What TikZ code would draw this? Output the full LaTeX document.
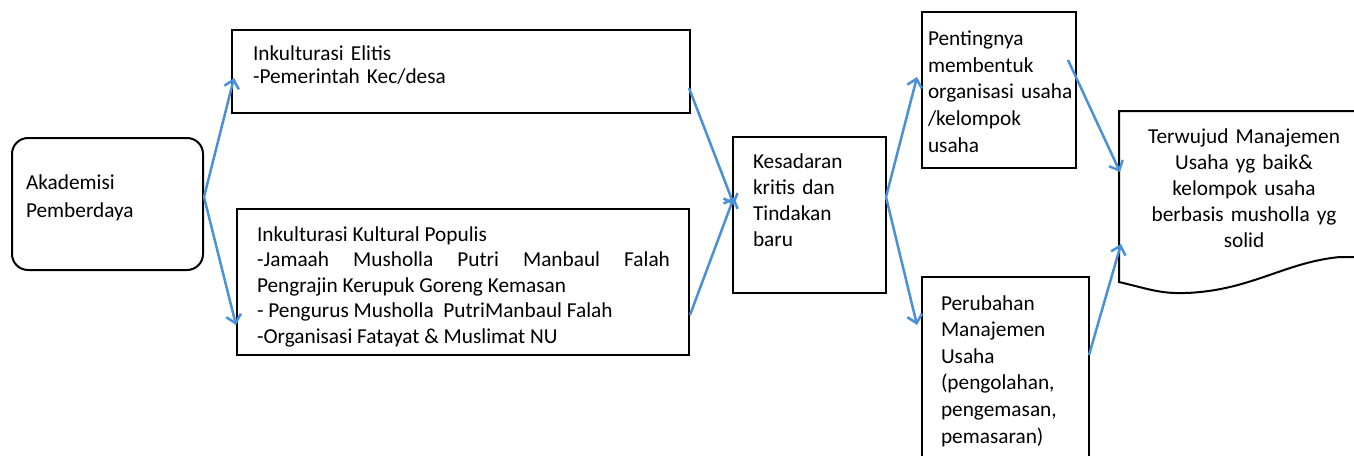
\documentclass[tikz,border=0pt]{standalone}
\usepackage{fontspec}
\setmainfont{Carlito}
\usetikzlibrary{arrows.meta,calc}
\definecolor{arrowblue}{RGB}{74,144,217}
\tikzset{
  box/.style={draw=black,line width=2pt,inner sep=0pt,outer sep=0pt,fill=none},
  txt/.style={inner sep=0pt,outer sep=0pt,anchor=north west,align=left,font=\fontsize{21.3pt}{26pt}\selectfont},
  conn/.style={draw=arrowblue,line width=2.5pt,-{Straight Barb[length=8pt,width=15pt]}}
}
\begin{document}
\begin{tikzpicture}[x=1pt,y=-1pt]
\useasboundingbox (0,0) rectangle (1354,455);
% boxes
\node[box,rounded corners=16pt,minimum width=191pt,minimum height=132pt] (akad) at (107.5,204) {};
\node[box,minimum width=458pt,minimum height=83pt] (elit) at (461,71.5) {};
\node[box,minimum width=452pt,minimum height=146pt] (pop) at (463,282) {};
\node[box,minimum width=153pt,minimum height=156pt] (kes) at (809.5,215) {};
\node[box,minimum width=154pt,minimum height=156pt] (pent) at (999,90) {};
\node[box,minimum width=167pt,minimum height=193pt] (perub) at (1005.5,373.5) {};
% document shape
\draw[line width=2pt] (1354,111) -- (1119,111) -- (1119,282)
  .. controls (1145,288) and (1160,294) .. (1185,293)
  .. controls (1250,291) and (1285,262) .. (1340,257) -- (1354,257);
\coordinate (docin1) at (1120,172);
\coordinate (docin2) at (1121,244);
% texts
\node[txt,text width=170pt,font=\fontsize{21.3pt}{28pt}\selectfont] (akadT) at (26,169.4) {\strut Akademisi\\Pemberdaya};
\node[txt,text width=420pt,font=\fontsize{21.3pt}{23pt}\selectfont] (elitT) at (253,44.4) {\strut Inkulturasi Elitis\\-Pemerintah Kec/desa};
\node[txt,text width=413pt,align=justify,font=\fontsize{21.3pt}{25.5pt}\selectfont] (popT) at (257,223.15) {\strut Inkulturasi Kultural Populis\\-Jamaah Musholla Putri Manbaul Falah\linebreak Pengrajin Kerupuk Goreng Kemasan\\- Pengurus Musholla~ PutriManbaul Falah\\-Organisasi Fatayat \& Muslimat NU};
\node[txt,text width=130pt] (kesT) at (753,149.8) {\strut Kesadaran\\kritis dan\\Tindakan\\baru};
\node[txt,text width=150pt,font=\fontsize{21.3pt}{27pt}\selectfont] (pentT) at (928,26.1) {\strut Pentingnya\\membentuk\\organisasi usaha\\/kelompok\\usaha};
\node[txt,text width=145pt,font=\fontsize{21.3pt}{26.6pt}\selectfont] (perubT) at (941,291.4) {\strut Perubahan\\Manajemen\\Usaha\\(pengolahan,\\pengemasan,\\pemasaran)};
\node[txt,anchor=north,align=center,text width=225pt] (docT) at (1244,124.8) {\strut Terwujud Manajemen\\Usaha yg baik\&\\kelompok usaha\\berbasis musholla yg\\solid};
% connectors
\draw[conn] ($(akad.east)+(1,-7)$) -- ($(elit.west)+(2,6.5)$);
\draw[conn] ($(akad.east)+(1,-7)$) -- ($(pop.west)+(-1,43)$);
\draw[conn] ($(elit.east)+(-1,16.5)$) -- ($(kes.west)+(1,-10)$);
\draw[conn] ($(pop.east)+(1,33)$) -- ($(kes.west)+(1,-18)$);
\draw[conn] ($(kes.east)+(0,-18)$) -- ($(pent.west)+(-5,-13)$);
\draw[conn] ($(kes.east)+(0,-18)$) -- ($(perub.west)+(-5,-48.5)$);
\draw[conn] ($(pent.north east)+(-8,48)$) -- (docin1);
\draw[conn] ($(perub.east)+(0,-18.5)$) -- (docin2);
\end{tikzpicture}
\end{document}
